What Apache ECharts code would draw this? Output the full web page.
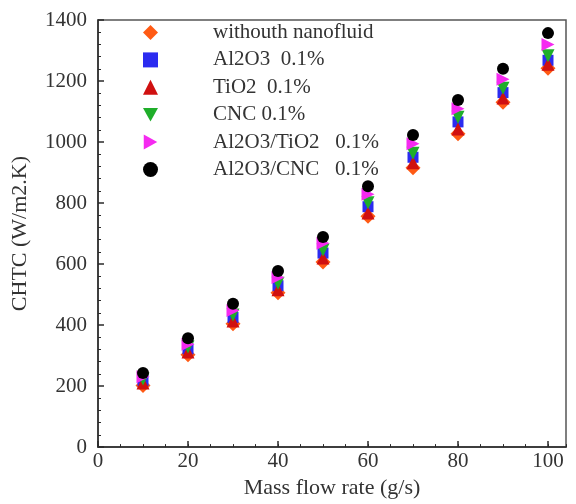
<!DOCTYPE html>
<html>
<head>
<meta charset="utf-8">
<script src="https://cdn.jsdelivr.net/npm/echarts@6/dist/echarts.min.js"></script>
<style>
  html, body { margin: 0; padding: 0; background: #ffffff; }
  #chart { width: 576px; height: 504px; }
</style>
</head>
<body>
<div id="chart"></div>
<script>
// Mass flow rate (g/s)
const flowRates = [10, 20, 30, 40, 50, 60, 70, 80, 90, 100];

// Convective heat transfer coefficient (W/m2.K) per fluid
const withoutNanofluid = [202, 303, 404, 506, 607, 757, 916, 1027, 1130, 1242];
const al2o3 = [218, 322, 425, 529, 636, 788, 950, 1066, 1162, 1268];
const tio2 = [210, 312, 413, 516, 620, 767, 932, 1043, 1144, 1255];
const cnc = [223, 328, 433, 537, 646, 801, 963, 1081, 1176, 1283];
const al2o3Tio2 = [231, 337, 448, 556, 668, 829, 994, 1109, 1206, 1320];
const al2o3Cnc = [243, 357, 470, 577, 689, 855, 1023, 1138, 1240, 1357];

const seriesNames = [
  'withouth nanofluid',
  'Al2O3  0.1%',
  'TiO2  0.1%',
  'CNC 0.1%',
  'Al2O3/TiO2   0.1%',
  'Al2O3/CNC   0.1%'
];

const FONT = '"Liberation Serif", "Times New Roman", serif';
const AXIS_COLOR = '#2a2a2a';

function pairs(values) {
  return flowRates.map((x, i) => [x, values[i]]);
}

const styles = [
  { symbol: 'diamond', size: 15, color: '#ff5a14' },
  { symbol: 'rect', size: 11, color: '#2b2bf0' },
  { symbol: 'triangle', size: 13, color: '#d01010' },
  { symbol: 'path://M0,0 L10,0 L5,9 Z', size: 13, color: '#1fae2a' },
  { symbol: 'path://M0,0 L9,5 L0,10 Z', size: 13, color: '#f52af0' },
  { symbol: 'circle', size: 12, color: '#000000' }
];

const values = [withoutNanofluid, al2o3, tio2, cnc, al2o3Tio2, al2o3Cnc];

const series = values.map((v, i) => ({
  name: seriesNames[i],
  type: 'scatter',
  symbol: styles[i].symbol,
  symbolSize: styles[i].size,
  itemStyle: { color: styles[i].color, opacity: 1 },
  data: pairs(v),
  z: 2 + i
}));

const chart = echarts.init(document.getElementById('chart'), null, { renderer: 'canvas' });

chart.setOption({
  backgroundColor: '#ffffff',
  animation: false,
  grid: {
    left: 98,
    top: 20,
    width: 468,
    height: 437,
    show: true,
    borderColor: '#555555',
    borderWidth: 1.5,
    backgroundColor: 'transparent'
  },
  legend: {
    orient: 'vertical',
    left: 138,
    top: 17,
    itemWidth: 15,
    itemHeight: 15,
    itemGap: 6.4,
    selectedMode: false,
    data: seriesNames.map((n, i) => ({ name: n, icon: styles[i].symbol })),
    textStyle: {
      fontFamily: FONT,
      fontSize: 21,
      color: '#333333',
      lineHeight: 21,
      padding: [0, 0, 0, 50]
    }
  },
  xAxis: [
    {
      type: 'value',
      min: 0,
      max: 104,
      interval: 20,
      name: 'Mass flow rate (g/s)',
      nameLocation: 'middle',
      nameGap: 26,
      nameTextStyle: { fontFamily: FONT, fontSize: 22, color: '#333333' },
      axisLine: { show: true, lineStyle: { color: AXIS_COLOR, width: 1.5 } },
      axisTick: { show: true, inside: true, length: 6, lineStyle: { color: AXIS_COLOR, width: 1.5 } },
      axisLabel: {
        fontFamily: FONT,
        fontSize: 21,
        color: '#333333',
        margin: 4,
        showMaxLabel: false,
        formatter: v => (v % 20 === 0 ? String(v) : '')
      },
      splitLine: { show: false }
    },
    {
      type: 'value',
      min: 0,
      max: 104,
      interval: 5,
      position: 'bottom',
      axisLine: { show: false },
      axisTick: { show: true, inside: true, length: 3, lineStyle: { color: AXIS_COLOR, width: 1 } },
      axisLabel: { show: false },
      splitLine: { show: false }
    }
  ],
  yAxis: {
    type: 'value',
    min: 0,
    max: 1400,
    interval: 200,
    name: 'CHTC (W/m2.K)',
    nameLocation: 'middle',
    nameGap: 67,
    nameTextStyle: { fontFamily: FONT, fontSize: 22, color: '#333333' },
    axisLine: { show: true, lineStyle: { color: AXIS_COLOR, width: 1.5 } },
    axisTick: { show: true, inside: true, length: 6, lineStyle: { color: AXIS_COLOR, width: 1.5 } },
    minorTick: { show: true, splitNumber: 5, length: 3, lineStyle: { color: AXIS_COLOR, width: 1 } },
    axisLabel: {
      fontFamily: FONT,
      fontSize: 21,
      color: '#333333',
      margin: 11,
      formatter: v => String(v)
    },
    splitLine: { show: false },
    minorSplitLine: { show: false }
  },
  series: series
});
</script>
</body>
</html>
